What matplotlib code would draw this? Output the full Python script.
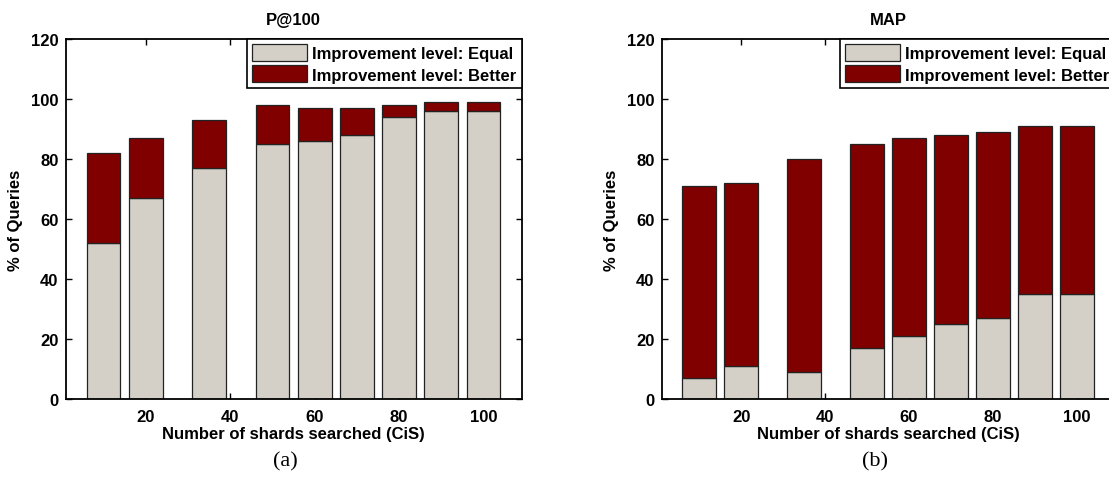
import numpy as np
import matplotlib
matplotlib.use('Agg')
import matplotlib.pyplot as plt

# shards searched (CiS) and % of queries per improvement level
cis = [10, 20, 35, 50, 60, 70, 80, 90, 100]
p100_equal = [52, 67, 77, 85, 86, 88, 94, 96, 96]
p100_total = [82, 87, 93, 98, 97, 97, 98, 99, 99]
map_equal = [7, 11, 9, 17, 21, 25, 27, 35, 35]
map_total = [71, 72, 80, 85, 87, 88, 89, 91, 91]

xticks = [20, 40, 60, 80, 100]
yticks = [0, 20, 40, 60, 80, 100, 120]

plt.rcParams['font.family'] = ['Liberation Sans', 'DejaVu Sans']
plt.rcParams['font.weight'] = 'bold'

c_equal = '#d4d0c8'
c_better = '#800000'
fs = 12

fig = plt.figure(figsize=(11.09, 4.89), dpi=100)
ax1 = fig.add_axes([65.5 / 1109, 89 / 489, 456 / 1109, 360 / 489])
ax2 = fig.add_axes([661.5 / 1109, 89 / 489, 453 / 1109, 360 / 489])


def draw(ax, equal, total, title):
    better = np.array(total) - np.array(equal)
    ax.bar(cis, equal, width=8, color=c_equal, edgecolor='#222222',
           linewidth=0.9, label='Improvement level: Equal', zorder=2)
    ax.bar(cis, better, width=8, bottom=equal, color=c_better,
           edgecolor='#222222', linewidth=0.9,
           label='Improvement level: Better', zorder=2)
    ax.set_xlim(1, 109)
    ax.set_ylim(0, 120)
    ax.set_xticks(xticks)
    ax.set_yticks(yticks)
    ax.tick_params(direction='in', top=True, right=True, length=4,
                   width=1, labelsize=fs, pad=5)
    ax.tick_params(axis='x', pad=7)
    for lab in ax.get_xticklabels() + ax.get_yticklabels():
        lab.set_fontweight('bold')
    for s in ax.spines.values():
        s.set_linewidth(1.3)
    ax.set_title(title, fontsize=fs, fontweight='bold', pad=11)
    ax.set_xlabel('Number of shards searched (CiS)', fontsize=fs,
                  fontweight='bold', labelpad=1.5)
    ax.set_ylabel('% of Queries', fontsize=fs, fontweight='bold',
                  labelpad=6)
    leg = ax.legend(loc='upper right', borderaxespad=0, fancybox=False,
                    framealpha=1, edgecolor='black', handlelength=3.3,
                    handleheight=1.2, handletextpad=0.3, borderpad=0.3,
                    labelspacing=0.25, prop={'weight': 'bold', 'size': fs})
    leg.get_frame().set_linewidth(1.2)


draw(ax1, p100_equal, p100_total, 'P@100')
draw(ax2, map_equal, map_total, 'MAP')

fig.text(285 / 1109, 1 - 462 / 489, '(a)', ha='center', va='center',
         fontsize=16, family='Liberation Serif', fontweight='normal')
fig.text(875 / 1109, 1 - 462 / 489, '(b)', ha='center', va='center',
         fontsize=16, family='Liberation Serif', fontweight='normal')

fig.savefig('out.png', dpi=100)
